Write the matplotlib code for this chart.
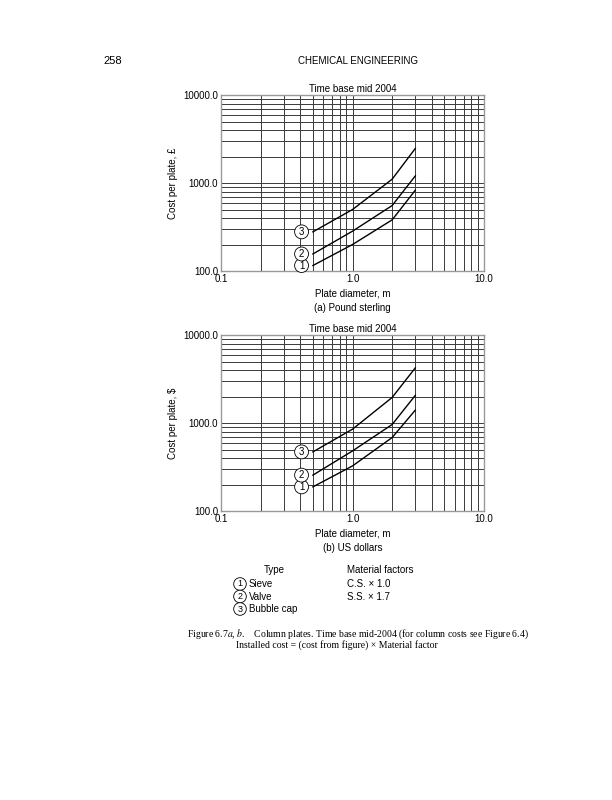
import matplotlib
matplotlib.use("Agg")
import matplotlib.pyplot as plt

plt.rcParams['font.family'] = ['Liberation Sans', 'DejaVu Sans']
plt.rcParams['mathtext.fontset'] = 'stix'

# plate diameter, m
diameter = [0.5, 1.0, 2.0, 3.0]

# (a) Pound sterling
gbp_sieve = [116, 201, 383, 832]
gbp_valve = [157, 285, 557, 1210]
gbp_bubble = [280, 502, 1110, 2480]

# (b) US dollars
usd_sieve = [189, 327, 687, 1406]
usd_valve = [257, 484, 966, 2070]
usd_bubble = [472, 855, 1960, 4250]

types = ['1', '2', '3']
type_names = ['Sieve', 'Valve', 'Bubble cap']
factors = ['C.S. \u00d7 1.0', 'S.S. \u00d7 1.7']

fig = plt.figure(figsize=(6.12, 8), dpi=100)


def circ(ax_or_fig, x, y, s, transform=None, size=7):
    kw = {}
    if transform is not None:
        kw['transform'] = transform
    ax_or_fig.text(x, y, s, fontsize=size, ha='center', va='center',
                   bbox=dict(boxstyle='circle,pad=0.2', fc='white', ec='black', lw=0.6),
                   **kw)


def panel(rect, series, ylab, sub):
    ax = fig.add_axes(rect)
    ax.set_xscale('log')
    ax.set_yscale('log')
    ax.set_xlim(0.1, 10)
    ax.set_ylim(100, 10000)
    ax.grid(True, which='both', color='#3a3a3a', lw=0.7)
    ax.set_xticks([0.1, 1, 10])
    ax.set_xticklabels(['0.1', '1.0', '10.0'])
    ax.set_yticks([100, 1000, 10000])
    ax.set_yticklabels(['100.0', '1000.0', '10000.0'])
    ax.tick_params(which='both', length=0, labelsize=7, pad=2)
    ax.xaxis.set_minor_formatter(matplotlib.ticker.NullFormatter())
    ax.yaxis.set_minor_formatter(matplotlib.ticker.NullFormatter())
    for sp in ax.spines.values():
        sp.set_color('#999999')
        sp.set_linewidth(1.0)
    for vals, t in zip(series, types):
        ax.plot(diameter, vals, color='black', lw=1.0)
        circ(ax, 0.41, vals[0], t)
    ax.set_title('Time base mid 2004', fontsize=7, pad=2)
    ax.set_xlabel('Plate diameter, m', fontsize=7, labelpad=3)
    ax.set_ylabel(ylab, fontsize=7, labelpad=4)
    ax.text(0.5, -0.21, sub, transform=ax.transAxes, fontsize=7, ha='center', va='center')
    return ax


panel([0.361, 0.661, 0.430, 0.22], [gbp_sieve, gbp_valve, gbp_bubble],
      'Cost per plate, \u00a3', '(a) Pound sterling')
panel([0.361, 0.361, 0.430, 0.22], [usd_sieve, usd_valve, usd_bubble],
      'Cost per plate, $', '(b) US dollars')

# page header
fig.text(103 / 612, 1 - 61 / 800, '258', fontsize=8, ha='left', va='center')
fig.text(358 / 612, 1 - 61 / 800, 'CHEMICAL ENGINEERING', fontsize=7, ha='center', va='center')

# legend block
fig.text(274 / 612, 1 - 570 / 800, 'Type', fontsize=7, ha='center', va='center')
fig.text(347 / 612, 1 - 570 / 800, 'Material factors', fontsize=7, ha='left', va='center')
for i, (t, name) in enumerate(zip(types, type_names)):
    yy = 1 - (584 + i * 12.5) / 800
    circ(fig, 240 / 612, yy, t, size=6.5)
    fig.text(249 / 612, yy, name, fontsize=7, ha='left', va='center')
for i, f in enumerate(factors):
    yy = 1 - (584 + i * 12.5) / 800
    fig.text(347 / 612, yy, f, fontsize=7, ha='left', va='center')

# caption
fig.text(187 / 612, 1 - 634 / 800,
         'Figure 6.7$a$, $b$.    Column plates. Time base mid-2004 (for column costs see Figure 6.4)',
         fontsize=7, ha='left', va='center', family='Liberation Serif')
fig.text(236 / 612, 1 - 645 / 800,
         'Installed cost = (cost from figure) \u00d7 Material factor',
         fontsize=7, ha='left', va='center', family='Liberation Serif')

fig.savefig('out.png', dpi=100)
